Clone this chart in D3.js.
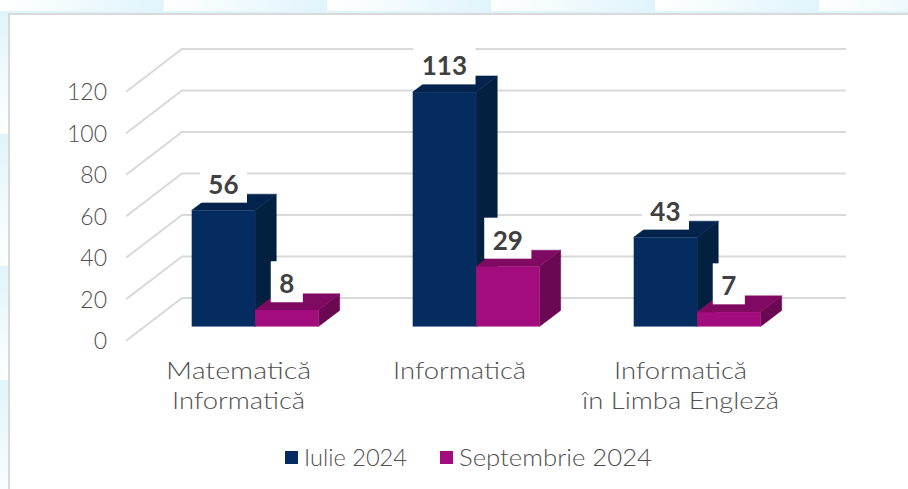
<!DOCTYPE html>
<html>
<head>
<meta charset="utf-8">
<script src="https://cdn.jsdelivr.net/npm/d3@7"></script>
<style>
  html, body { margin: 0; padding: 0; background: #fff; }
  svg { display: block; }
  .tick-label, .cat-label, .legend-label { font-family: "Lato", sans-serif; font-weight: 300; fill: #505050; }
  .value-label { font-family: "Lato", sans-serif; font-weight: 700; fill: #404040; }
</style>
</head>
<body>
<div id="chart"></div>
<script>
const width = 908, height = 489;

const categories = ["Matematică\nInformatică", "Informatică", "Informatică\nîn Limba Engleză"];
const seriesNames = ["Iulie 2024", "Septembrie 2024"];
const iulie = [56, 113, 43];
const septembrie = [8, 29, 7];
const tickValues = [0, 20, 40, 60, 80, 100, 120];

// colors: front, side, top
const colors = [
  { front: "#042c60", side: "#02203f", top: "#03234d" },
  { front: "#a20c7c", side: "#6a0853", top: "#800a62" }
];

// 3d floor: front edge 127..790, goes back by (55,-42)
const depth = { dx: 55, dy: -42 };
const barDepth = 0.385, barOffset = 0.32;

const x = d3.scaleBand().domain(categories).range([127, 790]);
const y = d3.scaleLinear().domain([0, 120]).range([340, 91]);

const svg = d3.select("#chart").append("svg")
  .attr("width", width).attr("height", height);

// background tiles behind white panel
const defs = svg.append("defs");
const grad = defs.append("linearGradient").attr("id", "tile");
grad.append("stop").attr("offset", "0%").attr("stop-color", "#ffffff");
grad.append("stop").attr("offset", "100%").attr("stop-color", "#dff4fb");
const gradV = defs.append("linearGradient").attr("id", "tileV")
  .attr("x1", 0).attr("y1", 0).attr("x2", 0).attr("y2", 1);
gradV.append("stop").attr("offset", "0%").attr("stop-color", "#dff4fb");
gradV.append("stop").attr("offset", "100%").attr("stop-color", "#ffffff");

svg.selectAll(".tile").data(d3.range(0, 5.6)).join("rect")
  .attr("x", i => i * 163.8).attr("y", 0)
  .attr("width", 163.8).attr("height", 11)
  .attr("fill", "url(#tile)");
svg.append("rect").attr("x", 0).attr("y", 11).attr("width", width).attr("height", 3).attr("fill", "#e0f5fb");
// left strip, tiles are not even
[[11, 134], [134, 266], [266, 380], [380, 512]].forEach(([a, b]) => {
  svg.append("rect").attr("x", 0).attr("y", a).attr("width", 8).attr("height", b - a).attr("fill", "url(#tileV)");
});
svg.append("rect").attr("x", 9).attr("y", 14).attr("width", width).attr("height", height)
  .attr("fill", "#fff").attr("stroke", "#d9d9d9").attr("stroke-width", 2);

// gridlines
const grid = svg.append("g").attr("fill", "none").attr("stroke", "#d9d9d9")
  .attr("stroke-width", 2).attr("stroke-linecap", "square");
tickValues.forEach(t => {
  grid.append("path").attr("d", d3.line()([
    [x.range()[0], y(t)],
    [x.range()[0] + depth.dx, y(t) + depth.dy],
    [x.range()[1] + depth.dx, y(t) + depth.dy]
  ]));
});

svg.selectAll(".tick-label").data(tickValues).join("text")
  .attr("class", "tick-label")
  .attr("x", 107).attr("y", d => y(d) + 1)
  .attr("dy", "0.36em")
  .attr("text-anchor", "end")
  .attr("font-size", 23)
  .text(d => d);

// bars
const barW = 63.4;
function cuboid(g, cat, val, s) {
  const gx = x(cat) + x.bandwidth() / 2 + depth.dx * barOffset;
  const x0 = gx + (s - 1) * barW, x1 = x0 + barW;
  const base = y(0) + depth.dy * barOffset;
  const top = y(val) + depth.dy * barOffset;
  const dx = depth.dx * barDepth, dy = depth.dy * barDepth;
  const c = colors[s];
  g.append("path").attr("fill", c.side).attr("stroke", c.side).attr("stroke-width", 0.5)
    .attr("d", d3.line()([[x1, top], [x1 + dx, top + dy], [x1 + dx, base + dy], [x1, base]]) + "Z");
  g.append("path").attr("fill", c.top).attr("stroke", c.top).attr("stroke-width", 0.5)
    .attr("d", d3.line()([[x0, top], [x0 + dx, top + dy], [x1 + dx, top + dy], [x1, top]]) + "Z");
  g.append("rect").attr("x", x0).attr("y", top).attr("width", barW).attr("height", base - top).attr("fill", c.front);
}
const bars = svg.append("g");
categories.forEach((cat, i) => {
  cuboid(bars, cat, iulie[i], 0);
  cuboid(bars, cat, septembrie[i], 1);
});

// value labels with white box
const labels = svg.append("g");
function valueLabel(cat, val, s) {
  const gx = x(cat) + x.bandwidth() / 2 + depth.dx * barOffset;
  const cx = gx + (s - 1) * barW + barW / 2;
  const top = y(val) + depth.dy * barOffset;
  const t = labels.append("text").attr("class", "value-label")
    .attr("x", cx).attr("y", top - 7.7 - 9)
    .attr("text-anchor", "middle").attr("font-size", 26).text(val);
  const w = t.node().getComputedTextLength() + 17;
  labels.insert("rect", "text")
    .attr("x", cx - w / 2).attr("y", top - 7.7 - 41)
    .attr("width", w).attr("height", 41).attr("fill", "#fff");
}
categories.forEach((cat, i) => {
  valueLabel(cat, iulie[i], 0);
  valueLabel(cat, septembrie[i], 1);
});

// Lato is narrower than the original font, so stretch the labels to the same width
const fitWidths = {
  "Matematică": 145, "Informatică": 133, "în Limba Engleză": 197,
  "Iulie 2024": 103, "Septembrie 2024": 193
};
function fit(sel, str) {
  sel.attr("textLength", fitWidths[str]).attr("lengthAdjust", "spacingAndGlyphs").text(str);
}

// category labels
categories.forEach(cat => {
  const cx = x(cat) + x.bandwidth() / 2 + depth.dx * barOffset;
  cat.split("\n").forEach((line, j) => {
    svg.append("text").attr("class", "cat-label")
      .attr("x", cx - 16.5).attr("y", 379 + j * 30)
      .attr("text-anchor", "middle").attr("font-size", 24).call(fit, line);
  });
});

// legend
const legendX = [285, 440];
seriesNames.forEach((name, i) => {
  svg.append("rect").attr("x", legendX[i]).attr("y", 451).attr("width", 13).attr("height", 13).attr("fill", colors[i].front);
  svg.append("text").attr("class", "legend-label")
    .attr("x", legendX[i] + 19).attr("y", 466)
    .attr("font-size", 24).call(fit, name);
});
</script>
</body>
</html>
